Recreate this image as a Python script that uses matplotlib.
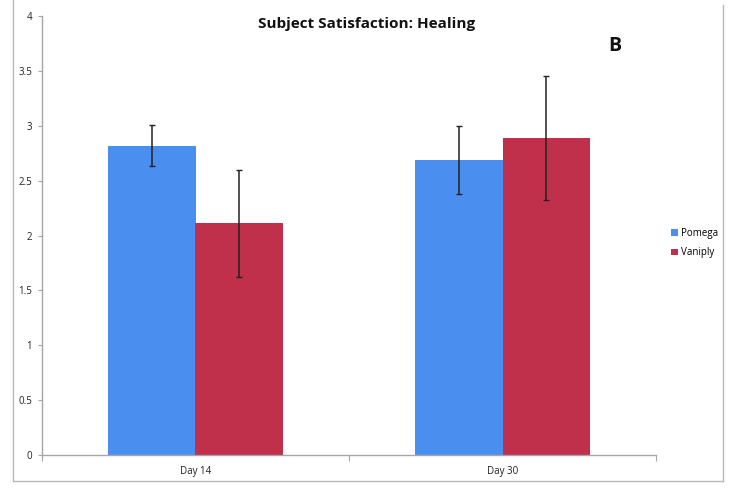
import numpy as np
import matplotlib.pyplot as plt
from matplotlib.lines import Line2D
from matplotlib.ticker import FixedLocator

# data
days = ['Day 14', 'Day 30']
pomega = [2.82, 2.69]
pomega_err = [0.185, 0.31]
vaniply = [2.11, 2.89]
vaniply_err = [0.49, 0.565]
yticks = [0, 0.5, 1, 1.5, 2, 2.5, 3, 3.5, 4]
ytick_labels = ['0', '0.5', '1', '1.5', '2', '2.5', '3', '3.5', '4']

blue = '#4a8ef0'
red = '#c1304b'
grey = '#a6a6a6'

plt.rcParams['font.family'] = ['Open Sans', 'DejaVu Sans']

fig = plt.figure(figsize=(7.32, 4.99), dpi=100)
ax = fig.add_axes([42/732, 1 - 455/499, (656 - 42)/732, (455 - 16)/499])

x = np.arange(len(days)) + 0.5
w = 0.285
ax.bar(x - w/2, pomega, w, color=blue, label='Pomega',
       yerr=pomega_err, error_kw=dict(ecolor='#222222', elinewidth=1.1, capsize=2.5, capthick=1))
ax.bar(x + w/2, vaniply, w, color=red, label='Vaniply',
       yerr=vaniply_err, error_kw=dict(ecolor='#222222', elinewidth=1.1, capsize=2.5, capthick=1))

ax.set_xlim(0, 2)
ax.set_ylim(0, 4)
ax.set_yticks(yticks)
ax.set_yticklabels(ytick_labels, fontsize=7, color='#222222')
ax.set_xticks([0, 1, 2])
ax.set_xticklabels([])
ax.xaxis.set_minor_locator(FixedLocator(list(x)))
ax.set_xticklabels(days, minor=True, fontsize=7, color='#222222')
ax.tick_params(axis='x', which='minor', length=0, pad=8)
ax.tick_params(axis='x', which='major', length=4, color=grey, direction='out')
ax.tick_params(axis='y', length=3, color=grey, direction='out', pad=4)
for s in ['top', 'right']:
    ax.spines[s].set_visible(False)
for s in ['left', 'bottom']:
    ax.spines[s].set_color(grey)
    ax.spines[s].set_linewidth(1)

fig.text(367/732, 1 - 24/499, 'Subject Satisfaction: Healing', ha='center', va='center',
         fontsize=11, fontweight='bold', color='#111111')
fig.text(615/732, 1 - 46/499, 'B', ha='center', va='center',
         fontsize=14, fontweight='bold', color='#111111')

leg = fig.legend(loc='center left', bbox_to_anchor=(662/732, 1 - 243/499), frameon=False,
                 fontsize=7, handlelength=0.7, handleheight=0.7, handletextpad=0.4,
                 labelspacing=0.9)

# outer chart frame
fl = 13/732
fr = 723/732
fb = 1 - 481/499
fig.add_artist(Line2D([fl, fl], [fb, 1], transform=fig.transFigure, color='#b8b8b8', lw=1))
fig.add_artist(Line2D([fr, fr], [fb, 1 - 5/499], transform=fig.transFigure, color='#b8b8b8', lw=1))
fig.add_artist(Line2D([fl, fr], [fb, fb], transform=fig.transFigure, color='#b8b8b8', lw=1))

fig.savefig('out.png', dpi=100)
